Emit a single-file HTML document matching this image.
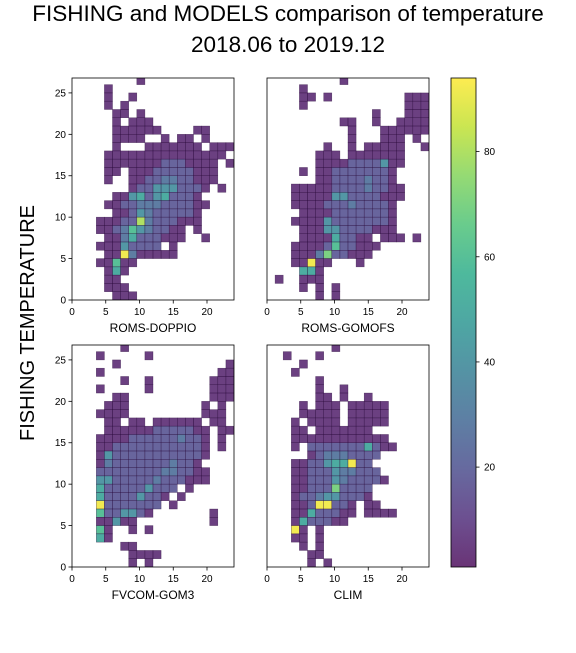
<!DOCTYPE html>
<html><head><meta charset="utf-8"><style>
body{margin:0;background:#fff;}
svg text{font-family:"Liberation Sans",sans-serif;}
</style></head><body>
<svg id="fig" width="576" height="648" viewBox="0 0 576 648">
<text x="288" y="21" text-anchor="middle" font-size="22.5">FISHING and MODELS comparison of temperature</text>
<text x="288" y="52" text-anchor="middle" font-size="22.5">2018.06 to 2019.12</text>
<text x="0" y="0" transform="translate(34,323) rotate(-90)" text-anchor="middle" font-size="20">FISHING TEMPERATURE</text>
<g id="panels"></g>
<g id="cbar"></g>
</svg>
<script>
// Data: 2D histogram counts (level codes per bin, 1.2°C x 1°C bins), row 0 = top (26-27°C)
const levelValues = [0, 5, 18, 28, 40, 50, 60, 70, 80, 92];
const panelNames = ["ROMS-DOPPIO", "ROMS-GOMOFS", "FVCOM-GOM3", "CLIM"];
const xTicks = [0, 5, 10, 15, 20];
const yTicks = [0, 5, 10, 15, 20, 25];
const cbarTicks = [20, 40, 60, 80];
const gridDoppio = [
"........1...........","....1...............","....1..1............","....1.1.............",
".....11.1...........",".....1.111..........",".....111111....11...",".....1111..1.11.1...",
".....1...1111111.111","....111111111111111.","....11111112221111.1","....11.11122222111..",
"....1..11223322111..",".......1224442221.1.",".....11452452221....","....1122333222211...",
".....11243222221....","...1112283222111....","...11236432211.1....","....1135222111..1...",
"...11142222.1.......","....119311111.......","...11611............","....151.............",
"....11..............","....111.............",".....111............"];
const gridGomofs = [
".........1..........","....1...............","....11.1.........111","....1............111",
".............1...111",".........11..1..1111","..........1...111111","..........1...111.1.",
".......1..1.11111..1","......111.1111111...","......11112222411...","....1.1122222221....",
"......1122223221....","...11111222232211...","...11111442222111...","...1111222322221....",
"....111122222221....","...1111422222221....","....111442222111....","....111152211.111.1.",
"...11112622111......","...1113722111.......","...11911...1........","....551.............",
".1..111.............","....1.1.1...........","......1.1..........."];
const gridFvcom = [
"......1.............","...1.....1..........",".....1.............1","...1..............11",
"......1..1.......111","...1.....1.......111",".....11..........111","....111.........1.1.",
"...1111.........111.","....11.11.111111.11.","....1111112222211.11","...11112222223221.1.",
"...11222222222221.1.","...14222222222221...","...1322222223221....","...22222222332211...",
"...44222223222111...","...5222224222.1.....","...522224221.1......","...92222222.1.......",
"...6224421.......1..","...11411.........1..","...61..1.1..........","...51...............",
"......11............",".......1111.........",".......1.1.........."];
const gridClim = [
"........1...........","..1...1.............","....1...............","...1................",
"......1.............","......1..1..........","......11.1..1.......","....1.111.11111.....",
"....11111.11111.....","...1.1111.11111.....","...11.1111111.......","...111111111111.....",
"...1.22222225211....",".....123332222......","...1122455922.......","...11222433222......",
"...112224322221.....","...1122272222.......","...1223442221.......","...11299221.11......",
"...11522211.1111....","...1522211..........","...91.1.............","...11.1.............",
"....1.1.............",".....11.............",".....1.1............"];
const grids = [gridDoppio, gridGomofs, gridFvcom, gridClim];
const binW = 1.2, binH = 1, xMax = 24, yMax = 26.8, yTop = 27;
const vMin = 1, vMax = 94;

const NS = "http://www.w3.org/2000/svg";
const vir = ["#440154","#482475","#414487","#355f8d","#2a788e","#21918c","#22a884","#44bf70","#7ad151","#bddf26","#fde725"];
function hex(c){return [1,3,5].map(i=>parseInt(c.substr(i,2),16));}
function viridis(t){t=Math.max(0,Math.min(1,t));const f=t*10,i=Math.min(9,Math.floor(f)),r=f-i;
 const a=hex(vir[i]),b=hex(vir[i+1]);return "rgb("+a.map((v,k)=>Math.round(v+(b[k]-v)*r)).join(",")+")";}
function mk(tag,attrs,parent){const e=document.createElementNS(NS,tag);for(const k in attrs)e.setAttribute(k,attrs[k]);parent.appendChild(e);return e;}

const boxes = [{x:72,y:78},{x:267,y:78},{x:72,y:345},{x:267,y:345}];
const W=162,H=222;
const root=document.getElementById("panels");
grids.forEach((grid,p)=>{
  const b=boxes[p];
  const sx=v=>b.x+v/xMax*W, sy=v=>b.y+H-v/yMax*H;
  const g=mk("g",{},root);
  
  
  const cid="clip"+p;
  const cp=mk("clipPath",{id:cid},g);mk("rect",{x:b.x,y:b.y,width:W,height:H},cp);
  const cells=mk("g",{"clip-path":"url(#"+cid+")"},g);
  grid.forEach((row,r)=>{
    for(let c=0;c<row.length;c++){
      const ch=row[c]; if(ch==='.') continue;
      const v=levelValues[+ch];
      const x0=c*binW, x1=x0+binW, yt=yTop-r*binH, yb=yt-binH;
      const rc=mk("rect",{x:sx(x0),y:sy(yt),width:sx(x1)-sx(x0),height:sy(yb)-sy(yt),
        fill:viridis((v-vMin)/(vMax-vMin)),"fill-opacity":0.8,stroke:"#2a0a3a","stroke-opacity":0.6,"stroke-width":0.5},cells);
      
      
    }
  });
  const fr=mk("rect",{x:b.x,y:b.y,width:W,height:H,fill:"none",stroke:"#000","stroke-width":0.8},g);
  
  
  xTicks.forEach(t=>{
    mk("line",{x1:sx(t),x2:sx(t),y1:b.y+H,y2:b.y+H+3.5,stroke:"#000","stroke-width":0.8},g);
    const tx=mk("text",{x:sx(t),y:b.y+H+15,"text-anchor":"middle","font-size":10},g);
    tx.textContent=t;
    
    
  });
  if(p%2===0){
    yTicks.forEach(t=>{
      mk("line",{x1:b.x-3.5,x2:b.x,y1:sy(t),y2:sy(t),stroke:"#000","stroke-width":0.8},g);
      const ty=mk("text",{x:b.x-6,y:sy(t)+3.5,"text-anchor":"end","font-size":10},g);
      ty.textContent=t;
      
      
    });
  }
  const xl=mk("text",{x:b.x+W/2,y:b.y+H+32,"text-anchor":"middle","font-size":12},g);
  xl.textContent=panelNames[p];
  
  
});

// colorbar
const cb=document.getElementById("cbar");
const cx=451,cy=78,cw=25,ch=489;
const defs=mk("defs",{},cb);
const lg=mk("linearGradient",{id:"vg",x1:0,y1:1,x2:0,y2:0},defs);
vir.forEach((c,i)=>mk("stop",{offset:i/10,"stop-color":c},lg));
mk("rect",{x:cx,y:cy,width:cw,height:ch,fill:"url(#vg)","fill-opacity":0.8},cb);
mk("rect",{x:cx,y:cy,width:cw,height:ch,fill:"none",stroke:"#000","stroke-width":0.8},cb);
cbarTicks.forEach(t=>{
  const y=cy+ch-(t-vMin)/(vMax-vMin)*ch;
  mk("line",{x1:cx+cw,x2:cx+cw+3.5,y1:y,y2:y,stroke:"#000","stroke-width":0.8},cb);
  const tt=mk("text",{x:cx+cw+8,y:y+3.5,"font-size":10},cb);
  tt.textContent=t;
  
  
});
</script>
</body></html>
